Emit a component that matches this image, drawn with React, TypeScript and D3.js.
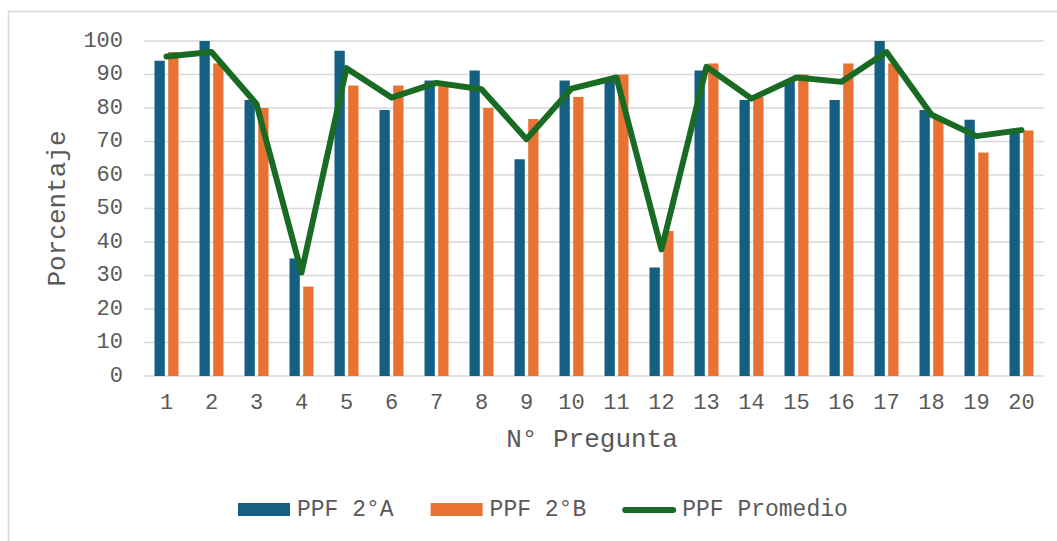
import * as d3 from 'd3';
import { useEffect } from 'react';

const preguntas = ['1','2','3','4','5','6','7','8','9','10','11','12','13','14','15','16','17','18','19','20'];
const ppf2A = [94.1, 100, 82.4, 35.1, 97.1, 79.4, 88.2, 91.2, 64.7, 88.2, 88.2, 32.4, 91.2, 82.4, 88.2, 82.4, 100, 79.4, 76.5, 73.5];
const ppf2B = [96.7, 93.3, 80.0, 26.7, 86.7, 86.7, 86.7, 80.0, 76.7, 83.3, 90.0, 43.3, 93.3, 83.3, 90.0, 93.3, 93.3, 76.7, 66.7, 73.3];
const promedio = [95.4, 96.7, 81.2, 30.9, 91.9, 83.1, 87.5, 85.6, 70.7, 85.8, 89.1, 37.8, 92.3, 82.8, 89.1, 87.8, 96.7, 78.0, 71.6, 73.4];
const yTicks = [0, 10, 20, 30, 40, 50, 60, 70, 80, 90, 100];

const W = 1057;
const H = 541;
const plot = { left: 144, right: 1044, top: 41, bottom: 376 };
const font = '"Liberation Mono", "Courier New", monospace';
const grey = '#595959';
const colA = '#156082';
const colB = '#E97132';
const colL = '#196B24';

export default function App() {
  useEffect(() => {
    document.body.style.margin = '0';
  }, []);

  const x = d3.scaleBand<string>().domain(preguntas).range([plot.left, plot.right]);
  const xSub = d3.scaleBand<string>().domain(['A', 'B']).range([10.5, 34.5]).paddingInner(0.25);
  const y = d3.scaleLinear().domain([0, 100]).range([plot.bottom, plot.top]);

  const line = d3.line<number>()
    .x((_, i) => (x(preguntas[i]) as number) + x.bandwidth() / 2)
    .y(d => y(d));

  const tickFs = 22;
  const legendFs = 23;
  const adv = legendFs * 0.6;
  const legendItems = [
    { label: 'PPF 2°A', kind: 'bar', color: colA },
    { label: 'PPF 2°B', kind: 'bar', color: colB },
    { label: 'PPF Promedio', kind: 'line', color: colL },
  ];
  let lx = 238;
  const legend = legendItems.map(it => {
    const item = { ...it, x: lx };
    lx += 52 + 7 + it.label.length * adv + 37;
    return item;
  });

  return (
    <svg width={W} height={H} style={{ display: 'block', background: '#fff' }}>
      <rect x={8.5} y={11.5} width={W + 20} height={H + 20} fill="#fff" stroke="#d9d9d9" strokeWidth={1.5} />

      {yTicks.map(t => (
        <g key={t}>
          <line x1={plot.left} x2={plot.right} y1={y(t)} y2={y(t)} stroke="#d9d9d9" strokeWidth={1.5} />
          <text x={123} y={y(t)} textAnchor="end" dominantBaseline="central" fontFamily={font} fontSize={tickFs} fill={grey}>{t}</text>
        </g>
      ))}

      {preguntas.map((p, i) => (
        <g key={p}>
          <rect x={(x(p) as number) + (xSub('A') as number)} width={xSub.bandwidth()} y={y(ppf2A[i])} height={y(0) - y(ppf2A[i])} fill={colA} />
          <rect x={(x(p) as number) + (xSub('B') as number)} width={xSub.bandwidth()} y={y(ppf2B[i])} height={y(0) - y(ppf2B[i])} fill={colB} />
          <text x={(x(p) as number) + x.bandwidth() / 2} y={403} textAnchor="middle" dominantBaseline="central" fontFamily={font} fontSize={tickFs} fill={grey}>{p}</text>
        </g>
      ))}

      <path d={line(promedio) ?? ''} fill="none" stroke={colL} strokeWidth={6} strokeLinejoin="round" strokeLinecap="round" />

      <text x={(plot.left + plot.right) / 2 - 2} y={440} textAnchor="middle" dominantBaseline="central" fontFamily={font} fontSize={26} fill={grey}>N° Pregunta</text>
      <text transform={`translate(58,${(plot.top + plot.bottom) / 2}) rotate(-90)`} textAnchor="middle" dominantBaseline="central" fontFamily={font} fontSize={26} fill={grey}>Porcentaje</text>

      {legend.map(it => (
        <g key={it.label}>
          {it.kind === 'bar'
            ? <rect x={it.x} y={503} width={52} height={13} fill={it.color} />
            : <line x1={it.x + 2} x2={it.x + 50} y1={510} y2={510} stroke={it.color} strokeWidth={6} strokeLinecap="round" />}
          <text x={it.x + 59} y={510} dominantBaseline="central" fontFamily={font} fontSize={legendFs} fill={grey}>{it.label}</text>
        </g>
      ))}
    </svg>
  );
}
